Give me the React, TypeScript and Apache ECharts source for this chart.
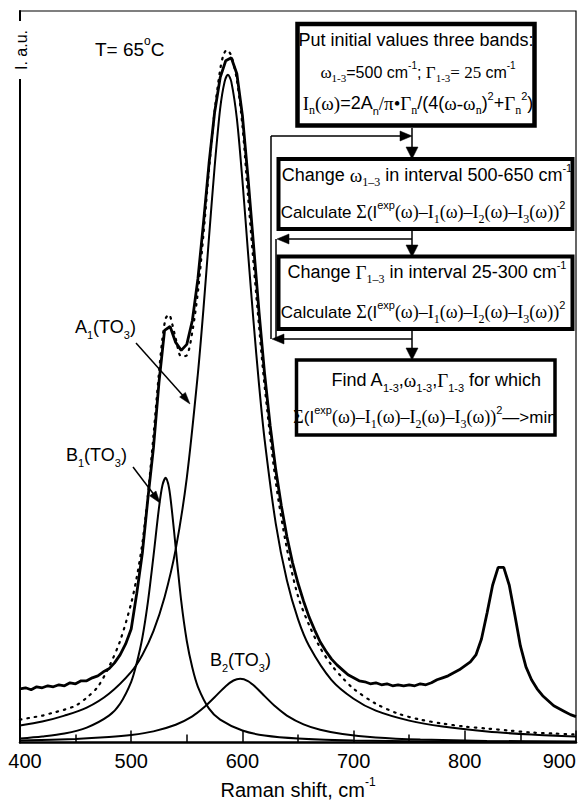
import React, { useEffect, useRef } from 'react';
import * as echarts from 'echarts';

const SANS = '"Liberation Sans", Arial, Helvetica, sans-serif';
const SERIF = '"Liberation Serif", "Times New Roman", serif';

// Raman shift (cm-1) ticks
const xTicks = [400, 500, 600, 700, 800, 900];

// Experimental spectrum
const expX = [
  400, 405, 410, 415, 420, 425, 430, 435, 440, 445, 450, 455, 460, 465, 470, 475, 480, 485, 490, 495,
  500, 505, 510, 515, 520, 525, 530, 535, 540, 545, 550, 555, 560, 565, 570, 575, 580, 585, 590, 595,
  600, 605, 610, 615, 620, 625, 630, 635, 640, 645, 650, 655, 660, 665, 670, 675, 680, 685, 690, 695,
  700, 705, 710, 715, 720, 725, 730, 735, 740, 745, 750, 755, 760, 765, 770, 775, 780, 785, 790, 795,
  800, 805, 810, 815, 820, 825, 830, 835, 840, 845, 850, 855, 860, 865, 870, 875, 880, 885, 890, 895, 900,
];
const expY = [
  54, 55, 53, 56, 55, 57, 56, 58, 57, 60, 59, 62, 62, 65, 67, 71, 74, 80, 88, 99,
  114, 150, 190, 245, 296, 362, 414, 418, 402, 394, 400, 424, 466, 522, 582, 633, 668, 685, 688, 672,
  630, 568, 500, 432, 370, 318, 274, 238, 207, 181, 160, 142, 126, 113, 101, 92, 84, 78, 73, 68,
  65, 62, 61, 59, 60, 58, 59, 57, 58, 57, 58, 57, 59, 58, 60, 63, 65, 67, 70, 73,
  77, 81, 88, 104, 130, 158, 176, 176, 158, 128, 97, 76, 63, 54, 47, 42, 37, 34, 31, 28, 26,
];

// Sum of the fitted bands (dotted)
const fitX = [
  400, 410, 420, 430, 440, 450, 460, 470, 480, 490, 500, 505, 510, 515, 520, 525, 528, 531, 534, 537,
  540, 545, 550, 555, 560, 565, 570, 575, 580, 583, 586, 590, 595, 600, 605, 610, 615, 620, 630, 640,
  650, 660, 670, 680, 690, 700, 720, 740, 760, 780, 800, 820, 840, 860, 880, 900,
];
const fitY = [
  23, 25, 27, 30, 33, 37, 45, 56, 76, 102, 140, 166, 200, 248, 308, 372, 405, 426, 430, 420,
  406, 388, 389, 413, 453, 511, 576, 634, 676, 691, 696, 690, 666, 620, 550, 482, 418, 358, 262, 195,
  147, 118, 95, 78, 65, 54, 39, 29, 23, 19, 16, 14, 12, 10, 9, 8,
];

// A1(TO3) band
const a1X = [
  400, 420, 440, 460, 480, 500, 510, 520, 530, 540, 550, 560, 565, 570, 575, 580, 584, 587, 590, 595,
  600, 605, 610, 615, 620, 630, 640, 650, 660, 680, 700, 720, 750, 780, 820, 860, 900,
];
const a1Y = [
  17, 21, 27, 35, 49, 71, 88, 112, 146, 194, 266, 371, 436, 508, 578, 637, 664, 671, 664, 627,
  565, 493, 423, 359, 304, 220, 163, 124, 97, 63, 44, 32, 22, 16, 11, 8, 6,
];

// B1(TO3) band
const b1X = [
  400, 420, 440, 460, 480, 490, 500, 505, 510, 515, 520, 525, 528, 531, 534, 537, 540, 545, 550, 555,
  560, 570, 580, 600, 620, 650, 700, 800, 900,
];
const b1Y = [
  4, 6, 9, 15, 27, 39, 61, 80, 105, 141, 187, 236, 258, 266, 256, 229, 196, 142, 102, 75,
  56, 34, 23, 12, 7, 4, 2, 1, 0.5,
];

// B2(TO3) band
const b2X = [
  400, 450, 480, 500, 520, 540, 555, 565, 575, 585, 592, 598, 605, 612, 620, 630, 640, 655, 670, 690,
  720, 760, 820, 900,
];
const b2Y = [
  2, 3.6, 5.5, 7.6, 11.2, 17.8, 26.3, 34.8, 45.5, 56.6, 62.3, 64, 61.7, 55.6, 46.6, 35.8, 27.1, 18.2, 12.8, 8.5,
  5.1, 3, 1.6, 0.9,
];

function richSet(fs: number) {
  const L = Math.round(fs * 1.45);
  const s = Math.round(fs * 0.62);
  const base = { color: '#000', fill: '#000' };
  return {
    n: { ...base, fontFamily: SANS, fontSize: fs, lineHeight: L, verticalAlign: 'middle' },
    g: { ...base, fontFamily: SERIF, fontSize: fs + 1, lineHeight: L, verticalAlign: 'middle' },
    b: { ...base, fontFamily: SANS, fontSize: s, lineHeight: s + 1, verticalAlign: 'bottom' },
    gb: { ...base, fontFamily: SERIF, fontSize: s + 1, lineHeight: s + 1, verticalAlign: 'bottom' },
    p: { ...base, fontFamily: SANS, fontSize: s, lineHeight: s + 3, verticalAlign: 'top' },
  };
}

function txt(text: string, x: number, y: number, fs: number, align: string = 'center') {
  return {
    type: 'text',
    x,
    y,
    z: 110,
    silent: true,
    style: {
      text,
      rich: richSet(fs),
      fill: '#000',
      fontFamily: SANS,
      fontSize: fs,
      align,
      textAlign: align,
      verticalAlign: 'middle',
      textVerticalAlign: 'middle',
    },
  };
}

function box(x1: number, y1: number, x2: number, y2: number, lw: number) {
  return {
    type: 'rect',
    z: 100,
    silent: true,
    shape: { x: x1, y: y1, width: x2 - x1, height: y2 - y1 },
    style: { fill: '#fff', stroke: '#000', lineWidth: lw },
  };
}

function seg(x1: number, y1: number, x2: number, y2: number, lw = 1.5) {
  return {
    type: 'line',
    z: 105,
    silent: true,
    shape: { x1, y1, x2, y2 },
    style: { stroke: '#000', lineWidth: lw },
  };
}

function head(points: number[][]) {
  return {
    type: 'polygon',
    z: 106,
    silent: true,
    shape: { points },
    style: { fill: '#000', stroke: '#000', lineWidth: 0.5 },
  };
}

const downHead = (x: number, tip: number) => head([[x - 6, tip - 12], [x + 6, tip - 12], [x, tip]]);
const rightHead = (tip: number, y: number) => head([[tip - 12, y - 5], [tip - 12, y + 5], [tip, y]]);
const leftHead = (tip: number, y: number) => head([[tip + 12, y - 5], [tip + 12, y + 5], [tip, y]]);

const CALC = '{g|Σ}{n|(I}{p|exp}{g|(ω)–I}{gb|1}{g|(ω)–I}{gb|2}{g|(ω)–I}{gb|3}{g|(ω))}{p|2}';

const flowchart = [
  // loop lines
  seg(271, 136, 271, 339),
  seg(276, 239, 276, 339),
  seg(271, 136, 401, 136),
  rightHead(412, 136),
  seg(412, 128, 412, 147),
  downHead(412, 159),
  seg(412, 231, 412, 245),
  downHead(412, 257),
  seg(286, 239, 412, 239),
  leftHead(277, 239),
  seg(412, 331, 412, 348),
  downHead(412, 360),
  seg(282, 339, 412, 339),
  leftHead(272, 339),
  // boxes
  box(297.5, 24, 534.5, 125.5, 4.5),
  box(278.5, 159, 572.5, 229, 4),
  box(278.5, 256.5, 572.5, 329, 4),
  box(296.5, 360, 555, 435, 3.5),
  // box texts
  txt('{n|Put initial values three bands:}', 416, 40, 18),
  txt('{g|ω}{gb|1-3}{n|=500 cm}{p|-1}{n|; }{g|Γ}{gb|1-3}{g|= 25 }{n|cm}{p|-1}', 418, 72, 16),
  txt('{g|I}{gb|n}{g|(ω)}{n|=2A}{b|n}{g|/π•Γ}{gb|n}{n|/(4(}{g|ω-ω}{gb|n}{n|)}{p|2}{n|+}{g|Γ}{gb|n}{p|2}{n|)}', 418, 103, 18),
  txt('{n|Change }{g|ω}{gb|1–3}{n| in interval 500-650 cm}{p|-1}', 427, 175, 18),
  txt('{n|Calculate }' + CALC, 423, 212, 17),
  txt('{n|Change }{g|Γ}{gb|1–3}{n| in interval 25-300 cm}{p|-1}', 427, 272, 18),
  txt('{n|Calculate }' + CALC, 423, 312, 17),
  txt('{n|Find A}{b|1-3}{n|,}{g|ω}{b|1-3}{n|,}{g|Γ}{b|1-3}{n| for which}', 436, 380, 18),
  txt(CALC + '{n|—>min}', 425, 417, 17),
];

const annotations = [
  txt('{n|T= 65}{p|o}{n|C}', 95, 49, 19, 'left'),
  txt('{n|A}{b|1}{n|(TO}{b|3}{n|)}', 75, 327, 18, 'left'),
  txt('{n|B}{b|1}{n|(TO}{b|3}{n|)}', 66, 455, 18, 'left'),
  txt('{n|B}{b|2}{n|(TO}{b|3}{n|)}', 210, 660, 18, 'left'),
  seg(136, 343, 186, 399, 1.5),
  head([[179.6, 397], [185.4, 392.4], [190, 404]]),
  seg(133, 467, 155, 496, 1.5),
  head([[149.6, 495.8], [156, 491], [160, 503]]),
  {
    type: 'text',
    x: 21,
    y: 50,
    rotation: Math.PI / 2,
    z: 110,
    silent: true,
    style: {
      text: 'I. a.u.',
      fontFamily: SANS,
      fontSize: 16,
      fill: '#000',
      align: 'center',
      textAlign: 'center',
      verticalAlign: 'middle',
      textVerticalAlign: 'middle',
      backgroundColor: '#fff',
      padding: [1, 9],
    },
  },
];

function lineSeries(name: string, xs: number[], ys: number[], extra: any = {}) {
  return {
    type: 'line',
    name,
    data: xs.map((x, i) => [x, ys[i]]),
    symbol: 'none',
    showSymbol: false,
    silent: true,
    smooth: 0.3,
    lineStyle: { color: '#000', width: 2 },
    ...extra,
  };
}

export default function App() {
  const ref = useRef<HTMLDivElement>(null);
  useEffect(() => {
    if (!ref.current) return;
    const chart = echarts.init(ref.current, null, { renderer: 'svg' });
    const option: any = {
      animation: false,
      backgroundColor: '#fff',
      grid: {
        left: 20,
        right: 3,
        top: 11,
        bottom: 59,
        show: true,
        borderColor: '#000',
        borderWidth: 1.2,
        backgroundColor: 'transparent',
      },
      xAxis: {
        type: 'value',
        min: xTicks[0],
        max: xTicks[xTicks.length - 1],
        interval: 100,
        name: '{n|Raman shift, cm}{p|-1}',
        nameLocation: 'middle',
        nameGap: 33,
        nameTextStyle: { rich: richSet(20) },
        axisLine: { onZero: false, lineStyle: { color: '#000', width: 2.5 } },
        axisTick: { inside: true, length: 12, lineStyle: { color: '#000', width: 1.5 } },
        minorTick: { show: true, splitNumber: 2, length: 8, lineStyle: { color: '#000', width: 1.5 } },
        axisLabel: {
          color: '#000',
          fontFamily: SANS,
          fontSize: 20,
          margin: 8,
          alignMinLabel: 'center',
          alignMaxLabel: 'right',
          formatter: (v: number) => (v === xTicks[0] ? '{a|' + v + '}' : String(v)),
          rich: { a: { color: '#000', fontFamily: SANS, fontSize: 20, padding: [0, 0, 0, 10] } },
        },
        splitLine: { show: false },
      },
      yAxis: {
        type: 'value',
        min: 0,
        max: 735,
        axisLine: { show: true, lineStyle: { color: '#000', width: 2 } },
        axisTick: { show: false },
        axisLabel: { show: false },
        splitLine: { show: false },
      },
      series: [
        lineSeries('B2(TO3)', b2X, b2Y),
        lineSeries('B1(TO3)', b1X, b1Y),
        lineSeries('A1(TO3)', a1X, a1Y),
        lineSeries('Fit', fitX, fitY, {
          lineStyle: { color: '#000', width: 2.2, type: [1.5, 6], cap: 'round' },
        }),
        lineSeries('Experiment', expX, expY, { smooth: false, lineStyle: { color: '#000', width: 2.8 } }),
      ],
      graphic: { elements: [...annotations, ...flowchart] },
    };
    chart.setOption(option);
    return () => chart.dispose();
  }, []);
  return (
    <div
      ref={ref}
      style={{ position: 'absolute', left: 0, top: 0, width: 579, height: 805, background: '#fff' }}
    />
  );
}
